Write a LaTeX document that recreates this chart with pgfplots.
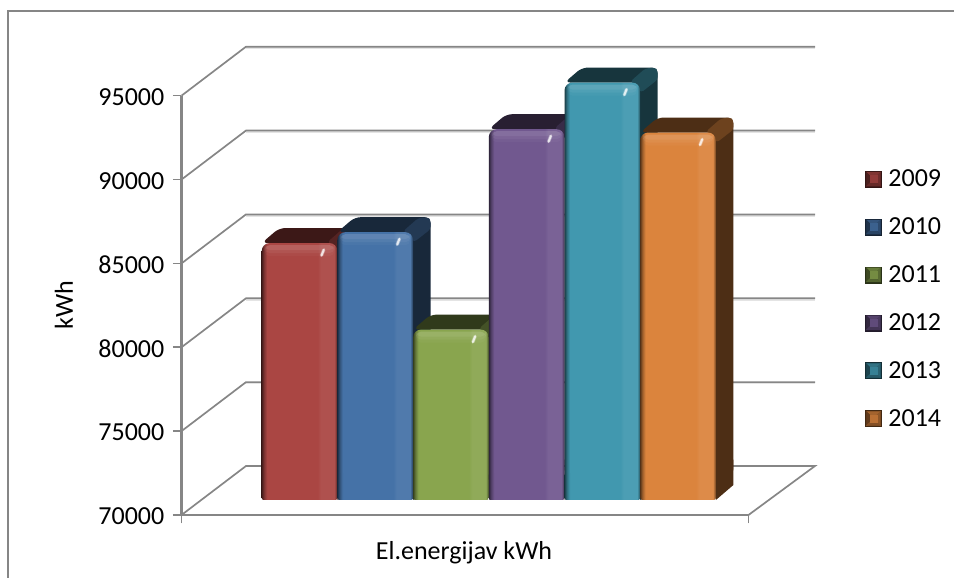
\documentclass[border=0pt]{standalone}
\usepackage{fontspec}
\setmainfont{Carlito}
\usepackage{pgfplots}
\pgfplotsset{compat=1.18}

\definecolor{wallgray}{HTML}{868686}
\definecolor{wallsoft}{HTML}{E4E4E4}
\definecolor{cA}{HTML}{AA4643}
\definecolor{cB}{HTML}{4572A7}
\definecolor{cC}{HTML}{89A54E}
\definecolor{cD}{HTML}{71588F}
\definecolor{cE}{HTML}{4198AF}
\definecolor{cF}{HTML}{DB843D}

% Horizontal profile of a bar's front face: dark edges, lighter strip on the right
\newcommand\declarefront[1]{%
  \pgfdeclarehorizontalshading{front#1}{100bp}{%
    color(0bp)=(#1!40!black); color(25bp)=(#1!40!black);
    color(26.5bp)=(#1!72!black); color(28.5bp)=(#1); color(62bp)=(#1);
    color(64bp)=(#1!94!white); color(73bp)=(#1!94!white);
    color(75bp)=(#1!50!black); color(100bp)=(#1!50!black)}}
\declarefront{cA}\declarefront{cB}\declarefront{cC}
\declarefront{cD}\declarefront{cE}\declarefront{cF}

% kWh values exceed TeX's dimension range, so they are added as integers
\newcommand\kwh[2]{\edef#1{\the\numexpr#2\relax}}

% One bar: slot on the category axis, value, colour.  1px = 1/75.7 category = 59.63 kWh
\newcommand\bevelbar[3]{%
  \pgfmathsetmacro\xL{#1}%
  \pgfmathsetmacro\xR{#1+1}%
  \pgfmathsetmacro\xBL{#1+0.2312}%
  \pgfmathsetmacro\xBR{#1+1.2312}%
  \kwh\yT{#2}%
  \kwh\yB{#2+894}%
  % depth faces
  \addplot[draw=none, fill=#3!35!black, forget plot] coordinates
    {(\xR,70000) (\xBR,70894) (\xBR,72400) (\xR,72400)} -- cycle;
  \addplot[draw=none, fill=#3!35!black, rounded corners=6pt, forget plot] coordinates
    {(\xL,\yT) (\xBL,\yB) (\xBR,\yB) (\xBR,71500) (\xR,71500) (\xR,\yT)} -- cycle;
  % lighter facet at the rear right corner
  \pgfmathsetmacro\xa{#1+1-0.13}\kwh\ya{#2+60}%
  \pgfmathsetmacro\xb{#1+1+0.066}\kwh\yb{#2+835}%
  \pgfmathsetmacro\xc{#1+1+0.195}\kwh\yc{#2+894}%
  \pgfmathsetmacro\xd{#1+1+0.2312}\kwh\yd{#2+715}%
  \pgfmathsetmacro\xe{#1+1+0.2312}\kwh\ye{#2+180}%
  \pgfmathsetmacro\xf{#1+1+0.013}\kwh\yf{#2-595}%
  \addplot[draw=none, fill=#3!50!black, rounded corners=3pt, forget plot] coordinates
    {(\xa,\ya) (\xb,\yb) (\xc,\yc) (\xd,\yd) (\xe,\ye) (\xf,\yf)} -- cycle;
  % front face: rounded upper part and a tighter foot
  \addplot[draw=none, shade, shading=front#3, rounded corners=8pt, forget plot] coordinates
    {(\xL,70800) (\xL,\yT) (\xR,\yT) (\xR,70800)} -- cycle;
  \addplot[draw=none, shade, shading=front#3, rounded corners=2pt, forget plot] coordinates
    {(\xL,70000) (\xL,71600) (\xR,71600) (\xR,70000)} -- cycle;
  % soft light band below the top edge
  \pgfmathsetmacro\xi{#1+0.04}\pgfmathsetmacro\xj{#1+0.96}%
  \kwh\bA{#2-120}\kwh\bB{#2-420}%
  \kwh\bC{#2-600}\kwh\bD{#2-780}%
  \addplot[draw=none, fill=white, fill opacity=.07, rounded corners=5pt, forget plot] coordinates
    {(\xi,\bB) (\xi,\bA) (\xj,\bA) (\xj,\bB)} -- cycle;
  \addplot[draw=none, fill=white, fill opacity=.05, rounded corners=5pt, forget plot] coordinates
    {(\xi,\bC) (\xi,\bA) (\xj,\bA) (\xj,\bC)} -- cycle;
  \addplot[draw=none, fill=white, fill opacity=.03, rounded corners=5pt, forget plot] coordinates
    {(\xi,\bD) (\xi,\bA) (\xj,\bA) (\xj,\bD)} -- cycle;
  % specular spot
  \pgfmathsetmacro\sa{#1+0.79}\pgfmathsetmacro\sb{#1+0.82}%
  \kwh\sc{#2-740}\kwh\sd{#2-400}%
  \addplot[#3!25!white, line width=3.4pt, line cap=round, opacity=.45, forget plot] coordinates
    {(\sa,\sc) (\sb,\sd)};
  \addplot[#3!12!white, line width=2pt, line cap=round, opacity=.95, forget plot] coordinates
    {(\sa,\sc) (\sb,\sd)};
}

% Bevelled legend key, with room before its text
\newcommand\legendkey[2]{%
  \addlegendimage{legend image code/.code={
    \path[draw=none] (0pt,0pt) -- (23pt,0pt);
    \fill[#1!30!black] (0pt,-8pt) rectangle (16pt,8pt);
    \fill[#1!75!black] (1pt,7pt) -- (15pt,7pt) -- (8pt,0pt) -- cycle;
    \fill[#1!45!black] (1pt,-7pt) -- (1pt,7pt) -- (8pt,0pt) -- cycle;
    \fill[#1!65!black] (15pt,-7pt) -- (15pt,7pt) -- (8pt,0pt) -- cycle;
    \fill[#1!60!black] (1pt,-7pt) -- (15pt,-7pt) -- (8pt,0pt) -- cycle;
    \fill[#1!85!black] (4.5pt,-3.5pt) rectangle (11.5pt,3.5pt);
  }}
  \addlegendentry{#2}}

\begin{document}
\begin{tikzpicture}
\path[use as bounding box] (0pt,0pt) rectangle (954pt,578pt);

% chart frame
\draw[wallgray, line width=1.8pt] (7.8pt,0pt) -- (7.8pt,567.2pt) -- (954pt,567.2pt);

% walls, floor and value axis
\begin{axis}[
  at={(181.5pt,63pt)}, anchor=south west, scale only axis,
  width=567pt, height=419.3pt,
  xmin=0, xmax=567, ymin=70000, ymax=95000, clip=false,
  axis lines*=left,
  axis line style={wallgray, line width=2.3pt, -},
  tick style={wallgray, line width=1.6pt},
  tick align=outside, major tick length=8.5pt,
  xtick={0,567}, xticklabels={},
  ytick={70000,75000,80000,85000,90000,95000},
  tick pos=left,
  scaled y ticks=false,
  yticklabel style={/pgf/number format/assume math mode=true,
    /pgf/number format/fixed, /pgf/number format/precision=0,
    /pgf/number format/set thousands separator={}, inner sep=0pt, yshift=-1.5pt},
  yticklabel shift=8.5pt,
  ticklabel style={font=\fontsize{26}{28}\selectfont},
  xlabel={El.energijav kWh},
  ylabel={kWh},
  label style={font=\fontsize{26}{28}\selectfont},
  xlabel style={at={(axis cs:282.5,67320)}, anchor=base},
  ylabel style={at={(axis cs:-108.5,82520)}, anchor=base, rotate=0},
]
  % faint edge below the rear grid lines
  \addplot[wallsoft, line width=1.5pt] coordinates {(64.5,97832) (633.5,97832)};
  \addplot[wallsoft, line width=1.5pt] coordinates {(64.5,92832) (633.5,92832)};
  \addplot[wallsoft, line width=1.5pt] coordinates {(64.5,87832) (633.5,87832)};
  \addplot[wallsoft, line width=1.5pt] coordinates {(64.5,82832) (633.5,82832)};
  \addplot[wallsoft, line width=1.5pt] coordinates {(64.5,77832) (633.5,77832)};
  % oblique and rear grid lines
  \addplot[wallgray, line width=1.7pt] coordinates {(0,95000) (64.5,97922) (633.5,97922)};
  \addplot[wallgray, line width=1.7pt] coordinates {(0,90000) (64.5,92922) (633.5,92922)};
  \addplot[wallgray, line width=1.7pt] coordinates {(0,85000) (64.5,87922) (633.5,87922)};
  \addplot[wallgray, line width=1.7pt] coordinates {(0,80000) (64.5,82922) (633.5,82922)};
  \addplot[wallgray, line width=1.7pt] coordinates {(0,75000) (64.5,77922) (633.5,77922)};
  \addplot[wallgray, line width=1.7pt] coordinates {(0,70000) (64.5,72922) (633.5,72922) (567,70000)};
\end{axis}

% bars, on the front plane of the floor
\begin{axis}[
  at={(261.7pt,78pt)}, anchor=south west, scale only axis,
  width=454.2pt, height=419.3pt,
  xmin=0, xmax=6, ymin=70000, ymax=95000, clip=false,
  hide axis,
  legend style={at={(1.3287,0.787)}, anchor=north west, draw=none, fill=none,
    font=\fontsize{26}{28}\selectfont, row sep=29.5pt, inner sep=0pt, outer sep=0pt,
    nodes={inner sep=0pt, anchor=west}},
  legend cell align=left,
]
  \bevelbar{0}{85320}{cA}
  \bevelbar{1}{85970}{cB}
  \bevelbar{2}{80160}{cC}
  \bevelbar{3}{92110}{cD}
  \bevelbar{4}{94890}{cE}
  \bevelbar{5}{91910}{cF}
  \legendkey{cA}{2009}
  \legendkey{cB}{2010}
  \legendkey{cC}{2011}
  \legendkey{cD}{2012}
  \legendkey{cE}{2013}
  \legendkey{cF}{2014}
\end{axis}
\end{tikzpicture}
\end{document}
